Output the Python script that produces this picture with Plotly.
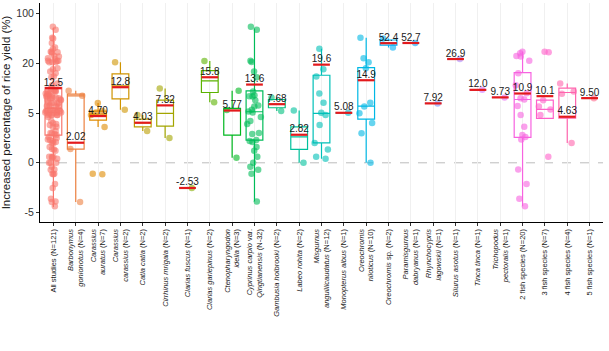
import math
import plotly.graph_objects as go

# ---------------- data (original units, %) ----------------
categories = [
    "All studies (N=121)",
    "<i>Barbonymus</i><br><i>gonionotus</i> (N=4)",
    "<i>Carassius</i><br><i>auratus</i> (N=7)",
    "<i>Carassius</i><br><i>carassius</i> (N=2)",
    "<i>Catla catla</i> (N=2)",
    "<i>Cirrhinus mrigala</i> (N=2)",
    "<i>Clarias fuscus</i> (N=1)",
    "<i>Clarias gariepinus</i> (N=2)",
    "<i>Ctenopharyngodon</i><br><i>idella</i> (N=3)",
    "<i>Cyprinus carpio</i> var.<br><i>Qingtianensis</i> (N-32)",
    "<i>Gambusia holbrooki</i> (N=2)",
    "<i>Labeo rohita</i> (N=2)",
    "<i>Misgurnus</i><br><i>anguillicaudatus</i> (N=12)",
    "<i>Monopterus albus</i> (N=1)",
    "<i>Oreochromis</i><br><i>niloticus</i> (N=10)",
    "<i>Oreochromis</i> sp. (N=2)",
    "<i>Paramisgurnus</i><br><i>dabryanus</i> (N=1)",
    "<i>Rhynchocypris</i><br><i>lagowskii</i> (N=1)",
    "<i>Silurus asotus</i> (N=1)",
    "<i>Tinca tinca</i> (N=1)",
    "<i>Trichopodus</i><br><i>pectoralis</i> (N=1)",
    "2 fish species (N=20)",
    "3 fish species (N=7)",
    "4 fish species (N=4)",
    "5 fish species (N=1)",
]

pts_barbonymus = [11.7, 10.2, 1.4, -3.95]
pts_c_auratus = [8.0, 5.6, 5.2, 4.8, 3.6, -1.1, -1.15]
pts_c_carassius = [21.6, 6.0]
pts_catla = [4.8, 3.2]
pts_cirrhinus = [12.4, 2.5]
pts_c_fuscus = [-2.53]
pts_c_gariepinus = [23.7, 8.3]
pts_ctenopharyngodon = [11.7, 5.9, 0.5]
pts_cyprinus = [79, 74, 24, 22, 17.5, 15.8, 11.5, 10.4, 10.1, 10.0, 8.9, 7.3, 7.0,
                6.0, 5.5, 5.2, 4.6, 4.2, 3.9, 3.0, 2.9, 2.3, 2.2, 2.1, 1.6, 1.2,
                0.6, 0.0, -0.4, -0.7, -1.1, -3.9]
pts_gambusia = [9.7, 5.6]
pts_labeo = [5.8, 0.0]
pts_misgurnus = [43.5, 18.2, 16.0, 10.9, 8.1, 5.1, 4.8, 3.8, 2.0, 1.35, 0.6, 0.4]
pts_monopterus = [5.08]
pts_o_niloticus = [61, 28, 21.6, 18.5, 8.1, 7.0, 4.97, 4.0, 2.96, 0.0]
pts_o_sp = [60.0, 45.5]
pts_paramisgurnus = [52.7]
pts_rhynchocypris = [7.92]
pts_silurus = [26.9]
pts_tinca = [12.0]
pts_trichopodus = [9.73]
pts_fish2 = [38.6, 36.1, 31.8, 31.0, 24.2, 17.0, 13.4, 11.0, 9.5, 9.1, 7.1, 4.8,
             3.62, 2.79, 2.6, 2.35, -0.67, -2.14, -3.62, -4.36]
pts_fish3 = [38.6, 38.0, 8.9, 7.0, 6.1, 4.8, 0.6]
pts_fish4 = [13.9, 11.5, 10.8, 2.0]
pts_fish5 = [9.50]

group_points = [
    pts_barbonymus, pts_c_auratus, pts_c_carassius, pts_catla, pts_cirrhinus,
    pts_c_fuscus, pts_c_gariepinus, pts_ctenopharyngodon, pts_cyprinus,
    pts_gambusia, pts_labeo, pts_misgurnus, pts_monopterus, pts_o_niloticus,
    pts_o_sp, pts_paramisgurnus, pts_rhynchocypris, pts_silurus, pts_tinca,
    pts_trichopodus, pts_fish2, pts_fish3, pts_fish4, pts_fish5,
]
pts_all = [v for g in group_points for v in g]
all_points = [pts_all] + group_points

# box statistics
box_q1 = [2.79, 1.38, 4.3, 9.3, 3.62, 3.69, -2.53, 11.2, 2.79, 2.28, 6.6, 1.35, 2.0,
          5.08, 4.4, 49.4, 52.7, 7.92, 26.9, 12.0, 9.73, 2.56, 4.47, 4.5, 9.50]
box_med = [6.42, 10.2, 4.9, 13.2, 4.0, 4.97, -2.53, 14.7, 5.8, 5.4, 7.6, 2.6, 4.97,
           5.08, 7.1, 53.0, 52.7, 7.92, 26.9, 12.0, 9.73, 9.1, 6.1, 11.2, 9.50]
box_q3 = [12.76, 10.7, 5.6, 16.8, 4.4, 8.9, -2.53, 17.8, 6.4, 11.7, 9.1, 3.62, 16.4,
          5.08, 18.7, 57.5, 52.7, 7.92, 26.9, 12.0, 9.73, 17.2, 8.9, 12.5, 9.50]
box_lo = [-4.43, -3.95, 3.6, 6.0, 3.2, 2.5, -2.53, 8.3, 0.5, -3.9, 5.6, 0.0, 0.4,
          5.08, 0.0, 45.5, 52.7, 7.92, 26.9, 12.0, 9.73, -4.36, 4.47, 2.0, 9.50]
box_hi = [76.8, 11.7, 8.0, 21.6, 4.8, 12.4, -2.53, 23.7, 11.7, 76, 9.7, 5.8, 43.5,
          5.08, 61, 60.0, 52.7, 7.92, 26.9, 12.0, 9.73, 38.6, 8.9, 13.9, 9.50]

mean_values = [12.5, 2.02, 4.70, 12.8, 4.03, 7.32, -2.53, 15.8, 5.77, 13.6, 7.68, 2.82,
               19.6, 5.08, 14.9, 52.4, 52.7, 7.92, 26.9, 12.0, 9.73, 10.9, 10.1, 4.63, 9.50]
mean_labels = ["12.5", "2.02", "4.70", "12.8", "4.03", "7.32", "-2.53", "15.8", "5.77",
               "13.6", "7.68", "2.82", "19.6", "5.08", "14.9", "52.4", "52.7", "7.92",
               "26.9", "12.0", "9.73", "10.9", "10.1", "4.63", "9.50"]

y_tick_values = [-5, 0, 5, 20, 100]
y_tick_text = ["-5", "0", "5", "20", "100"]


# ---------------- helpers ----------------
def tr(v):
    """piecewise axis transform: -5,0,5,20,100 equally spaced"""
    if v <= 5:
        return v / 5.0
    if v <= 20:
        return 1 + (v - 5) / 15.0
    return 2 + (v - 20) / 80.0


def hcl_hex(h, c=100.0, l=65.0):
    hr = math.radians(h)
    u, v = c * math.cos(hr), c * math.sin(hr)
    Xn, Yn, Zn = 95.047, 100.0, 108.883
    un = 4 * Xn / (Xn + 15 * Yn + 3 * Zn)
    vn = 9 * Yn / (Xn + 15 * Yn + 3 * Zn)
    Y = Yn * ((l + 16) / 116) ** 3
    up = u / (13 * l) + un
    vp = v / (13 * l) + vn
    X = Y * 9 * up / (4 * vp)
    Z = Y * (12 - 3 * up - 20 * vp) / (4 * vp)
    X, Y, Z = X / 100, Y / 100, Z / 100
    rgb = [3.2404542 * X - 1.5371385 * Y - 0.4985314 * Z,
           -0.9692660 * X + 1.8760108 * Y + 0.0415560 * Z,
           0.0556434 * X - 0.2040259 * Y + 1.0572252 * Z]
    out = []
    for ch in rgb:
        ch = 12.92 * ch if ch <= 0.0031308 else 1.055 * ch ** (1 / 2.4) - 0.055
        out.append(int(round(max(0, min(1, ch)) * 255)))
    return "#%02X%02X%02X" % tuple(out)


n = len(categories)
colors = [hcl_hex(15 + 360.0 / n * i) for i in range(n)]
BOXW = 0.75

fig = go.Figure()
for i in range(n):
    col = colors[i]
    fig.add_trace(go.Box(
        x=[i], y=[[tr(v) for v in all_points[i]]],
        q1=[tr(box_q1[i])], median=[tr(box_med[i])], q3=[tr(box_q3[i])],
        lowerfence=[tr(box_lo[i])], upperfence=[tr(box_hi[i])],
        boxpoints="all", jitter=1.0, pointpos=0, width=BOXW, whiskerwidth=0,
        fillcolor="rgba(255,255,255,0)",
        line=dict(color=col, width=1.2),
        marker=dict(color=col, opacity=0.6, size=6.5, line=dict(width=0)),
        hoverinfo="skip", showlegend=False,
    ))

mx, my = [], []
for i, m in enumerate(mean_values):
    mx += [i - BOXW / 2, i + BOXW / 2, None]
    my += [tr(m), tr(m), None]
fig.add_trace(go.Scatter(x=mx, y=my, mode="lines",
                         line=dict(color="#E3191C", width=2.2),
                         hoverinfo="skip", showlegend=False))
fig.add_trace(go.Scatter(x=list(range(n)), y=[tr(m) for m in mean_values],
                         mode="text", text=mean_labels, textposition="top center",
                         textfont=dict(size=10, color="#1A1A1A",
                                       family="Liberation Sans, Arial, sans-serif"),
                         hoverinfo="skip", showlegend=False))

fig.add_shape(type="line", xref="paper", x0=0, x1=1, yref="y", y0=0, y1=0,
              line=dict(color="#BDBDBD", width=1, dash="dash"), layer="below")

fig.update_layout(
    width=609, height=351,
    margin=dict(l=40, r=6, t=3, b=129),
    paper_bgcolor="white", plot_bgcolor="white",
    font=dict(family="Liberation Sans, Arial, sans-serif", color="#222222"),
    boxmode="overlay",
)
fig.update_xaxes(
    range=[-0.6, n - 0.4], tickmode="array", tickvals=list(range(n)), ticktext=categories,
    tickangle=-90, tickfont=dict(size=7.5, color="#1A1A1A"),
    showline=True, linecolor="black", linewidth=1,
    ticks="outside", ticklen=3, tickcolor="#333333",
    showgrid=True, gridcolor="#F0F0F0", gridwidth=0.6, zeroline=False, automargin=False,
)
fig.update_yaxes(
    range=[-1.19, 3.213], tickmode="array", tickvals=[tr(v) for v in y_tick_values],
    ticktext=y_tick_text, tickfont=dict(size=10.5, color="#333333"),
    showline=True, linecolor="black", linewidth=1,
    ticks="outside", ticklen=3, tickcolor="#333333",
    showgrid=False, zeroline=False, automargin=False,
    title=dict(text="Increased percentage of rice yield (%)",
               font=dict(size=11.5, color="#1A1A1A"), standoff=4),
)

fig.write_html("out.html")
